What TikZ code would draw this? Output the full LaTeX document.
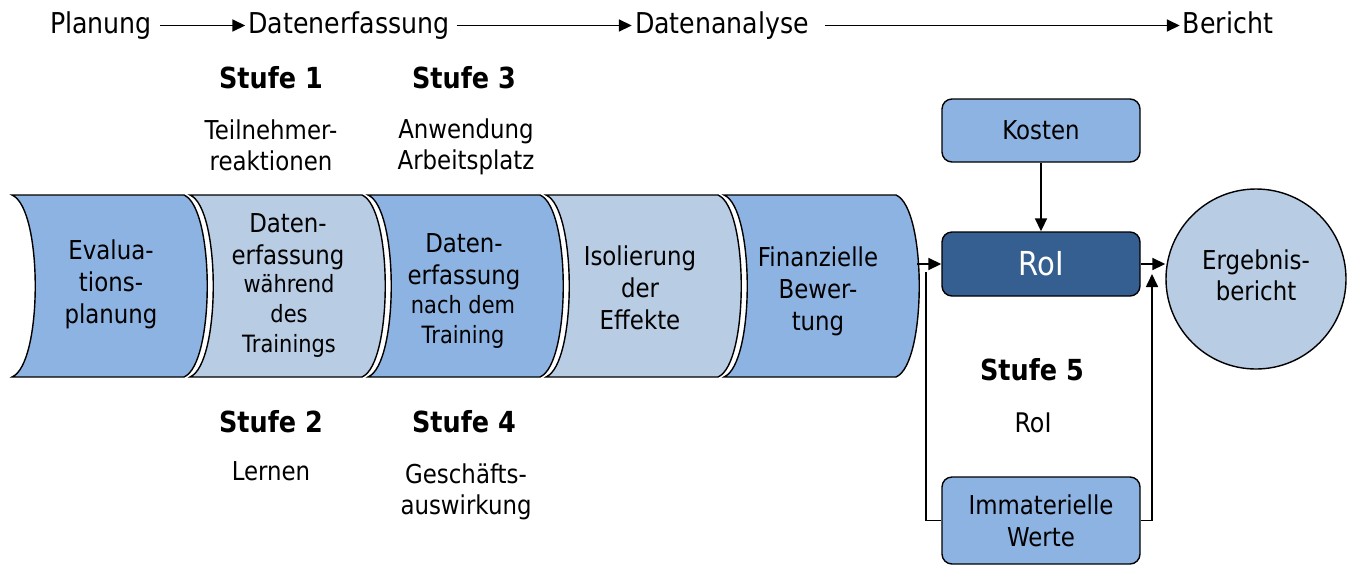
\documentclass[tikz,border=0pt]{standalone}
\usepackage{fontspec}
\setmainfont{DejaVu Sans}[FakeStretch=0.88]
\usetikzlibrary{arrows.meta}
\definecolor{bmid}{HTML}{8DB3E2}
\definecolor{blight}{HTML}{B8CCE4}
\definecolor{bdark}{HTML}{365F91}
\begin{document}
\begin{tikzpicture}[x=1pt,y=-1pt,
  toptxt/.style={font=\fontsize{28.7}{34}\selectfont, inner sep=0pt, text height=21pt, text depth=6pt},
  stufe/.style={font=\bfseries\fontsize{29}{34}\selectfont, inner sep=0pt},
  lbl/.style={font=\fontsize{26}{32}\selectfont, align=center, inner sep=0pt},
  sublbl/.style={font=\fontsize{26}{31}\selectfont, align=center, inner sep=0pt},
  smalllbl/.style={font=\fontsize{23.8}{30}\selectfont, align=center, inner sep=0pt},
  chev/.style={draw=black, line width=1.4pt},
  box/.style={draw=black, line width=1.4pt, rounded corners=10pt, fill=bmid, minimum width=198pt, minimum height=63pt, align=center, font=\fontsize{26}{32}\selectfont, inner sep=0pt},
  conn/.style={line width=1.7pt, -{Triangle[length=13pt,width=12pt]}},
  wire/.style={line width=1.7pt}
]
\useasboundingbox (0,0) rectangle (1352,566);

% top process row
\node[toptxt] (plan) at (101,25.5) {Planung};
\node[toptxt] (erf) at (349,25.5) {Datenerfassung};
\node[toptxt] (ana) at (722,25.5) {Datenanalyse};
\node[toptxt] (ber) at (1228,25.5) {Bericht};
\draw[conn, shorten <=8pt, shorten >=3pt] (plan) -- (erf);
\draw[conn, shorten <=7pt, shorten >=3pt] (erf) -- (ana);
\draw[conn, shorten <=16pt, shorten >=3pt] (ana) -- (ber);

% stage labels top
\node[stufe] (s1) at (271,78) {Stufe 1};
\node[stufe] (s3) at (464,78) {Stufe 3};
\node[sublbl] (s1t) at (271,145) {Teilnehmer-\\reaktionen};
\node[sublbl] (s3t) at (466,147) {Anwendung\\Arbeitsplatz};

% chevrons
\foreach \k/\c in {0/bmid,1/blight,2/bmid,3/blight,4/bmid} {
  \pgfmathsetmacro\L{12+178*\k}
  \pgfmathsetmacro\R{\L+172}
  \filldraw[chev, fill=\c] (\L,195) -- (\R,195)
     .. controls ({\R+31},208) and ({\R+31},364) .. (\R,377)
     -- (\L,377)
     .. controls ({\L+31},364) and ({\L+31},208) .. (\L,195) -- cycle;
}
\node[lbl] (t1) at (111,284) {Evalua-\\tions-\\planung};
\node[lbl] (t2a) at (288,242) {Daten-\\erfassung};
\node[smalllbl] (t2b) at (289,316) {während\\des\\Trainings};
\node[lbl] (t3a) at (464,262) {Daten-\\erfassung};
\node[smalllbl] (t3b) at (463,322) {nach dem\\Training};
\node[lbl] (t4) at (640,288) {Isolierung\\der\\Effekte};
\node[lbl] (t5) at (818,291) {Finanzielle\\Bewer-\\tung};

% stage labels bottom
\node[stufe] (s2) at (271,422) {Stufe 2};
\node[stufe] (s4) at (464,422) {Stufe 4};
\node[sublbl] (s2t) at (271,471) {Lernen};
\node[sublbl] (s4t) at (466,492) {Geschäfts-\\auswirkung};

% right part
\node[box] (kosten) at (1041,130.5) {Kosten};
\node[box, fill=bdark, text=white, minimum height=64pt, font=\fontsize{33}{38}\selectfont] (roi) at (1041,264) {RoI};
\node[box, minimum height=87pt] (imm) at (1041,520.5) {Immaterielle\\Werte};
\node[draw=black, line width=1.4pt, circle, fill=blight, minimum size=180pt, inner sep=0pt] (erg) at (1256,279) {};
\node[lbl, font=\fontsize{26}{31}\selectfont] (ergt) at (1256,275) {Ergebnis-\\bericht};
\node[stufe] (s5) at (1032,370) {Stufe 5};
\node[font=\fontsize{27}{32}\selectfont, inner sep=0pt] (s5t) at (1033,423) {RoI};

\coordinate (f5) at (917,264);
\coordinate (lj) at (926,272);
\coordinate (rj) at (1152,274);
\draw[conn] (f5) -- (roi.west);
\draw[conn] (kosten.south) -- (roi.north);
\draw[conn] (roi.east) -- (roi.east -| erg.west);
\draw[wire] (lj) |- (imm.west);
\draw[conn] (imm.east) -| (rj);
\end{tikzpicture}
\end{document}
